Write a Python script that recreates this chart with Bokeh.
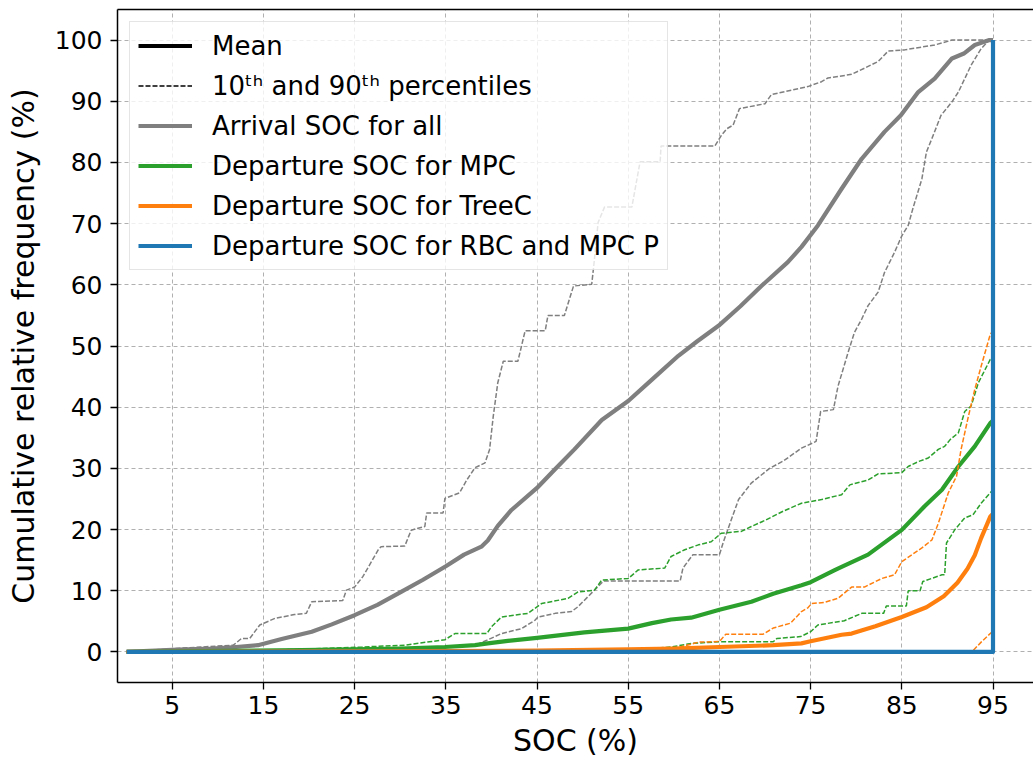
from bokeh.plotting import figure
from bokeh.models import Range1d, FixedTicker, LinearAxis, Legend, LegendItem, ColumnDataSource
from bokeh.embed import file_html
from bokeh.resources import INLINE

# ---------------- data ----------------
arrival_mean_x = [0, 5, 9.3, 12, 14.4, 17, 20.3, 22.5, 25, 27.5, 30.1, 32.5, 35, 37, 38.9, 39.6, 40.7,
                  42.2, 45, 47, 49.1, 52.1, 55, 57.6, 60.5, 62.5, 64.9, 67.3, 69.6, 72.5, 74, 75.8,
                  78.4, 80.6, 83.1, 84.9, 86.8, 88.6, 90.5, 91.8, 93, 94.6, 95]
arrival_mean_y = [0, 0.35, 0.55, 0.8, 1.1, 2.1, 3.3, 4.5, 6.0, 7.7, 9.8, 11.8, 14.0, 15.9, 17.2, 18.2, 20.6,
                  23.2, 26.8, 29.9, 33.1, 37.9, 41.0, 44.5, 48.4, 50.7, 53.3, 56.5, 59.8, 63.7, 66.2, 69.7,
                  75.7, 80.6, 85.0, 87.7, 91.5, 93.7, 97.0, 97.8, 99.2, 100, 100]

arrival_p10_x = [0, 5.3, 11.7, 12.6, 13.5, 14.6, 16.3, 18.4, 19.7, 20.3, 23.7, 24.1, 25.0, 25.9, 27.6, 27.9,
                 30.5, 31.2, 32.7, 32.9, 34.7, 34.9, 36.5, 37.3, 38.2, 39.3, 39.8, 40.2, 40.7, 41.3, 42.9,
                 43.7, 45.9, 46.2, 48.0, 49.0, 51.0, 51.3, 51.7, 52.4, 55.4, 56.3, 58.5, 58.6, 64.5, 65.2,
                 65.8, 66.5, 67.2, 70.0, 70.7, 74.7, 76.2, 76.9, 79.5, 80.9, 82.4, 83.5, 85.3, 88.6, 90.5, 95]
arrival_p10_y = [0, 0.55, 1.1, 2.2, 2.2, 4.4, 5.5, 6.1, 6.3, 8.2, 8.4, 10.1, 10.6, 12.3, 16.7, 17.2,
                 17.3, 19.9, 20.5, 22.7, 22.7, 25.1, 26.0, 28.1, 30.1, 30.9, 33.1, 38.5, 44.0, 47.5, 47.5,
                 52.5, 52.5, 55.0, 55.0, 59.8, 60.1, 64.2, 70.2, 72.7, 72.7, 80.1, 80.1, 82.7, 82.7, 84.4,
                 85.5, 86.1, 88.8, 89.6, 91.1, 92.4, 93.2, 93.8, 94.4, 95.4, 96.5, 98.2, 98.4, 99.2, 100, 100]

arrival_p90_x = [0, 30, 34.9, 38.2, 39.5, 41.1, 43.3, 44.8, 45.1, 47.0, 48.8, 49.5, 51.3, 52.3, 60.7, 61.0,
                 62.1, 65.0, 65.4, 66.3, 67.1, 68.5, 70.5, 72, 74.0, 75.6, 76.1, 77.5, 78.0, 79.1, 79.8,
                 80.6, 81.3, 82.4, 83.1, 84.2, 85.0, 85.7, 86.2, 87.2, 87.7, 88.3, 89.3, 90.5, 91.2, 91.9,
                 92.6, 93.7, 94.6, 95]
arrival_p90_y = [0, 0.4, 0.8, 1.1, 1.9, 3.0, 3.8, 5.2, 5.7, 6.3, 6.6, 7.4, 10.1, 11.6, 11.6, 13.7,
                 15.9, 15.9, 17.8, 21.6, 24.9, 27.6, 30.0, 31.2, 33.3, 34.4, 39.3, 39.6, 43.4, 48.9, 52.2,
                 54.4, 56.6, 58.8, 62.0, 65.3, 68.0, 69.7, 72.4, 77.3, 81.7, 83.9, 87.7, 89.9, 91.5, 93.7,
                 95.9, 98.6, 100, 100]

mpc_mean_x = [0, 19.2, 30, 34.9, 38.2, 39.6, 41.8, 45.0, 50.2, 55.0, 57.6, 59.7, 61.9, 65.0, 68.5, 70.9,
              74.0, 75.0, 77.7, 78.4, 81.3, 85.0, 87.5, 89.4, 91.2, 93.0, 94.7, 95]
mpc_mean_y = [0, 0.3, 0.55, 0.8, 1.1, 1.4, 1.8, 2.3, 3.2, 3.8, 4.7, 5.3, 5.6, 6.9, 8.2, 9.5,
              10.9, 11.4, 13.4, 13.9, 15.9, 19.95, 23.8, 26.5, 30.3, 33.6, 37.4, 37.8]

mpc_p10_x = [0, 18.8, 25.8, 30.5, 34.9, 36.0, 39.5, 40.0, 41.1, 44.0, 45.5, 48.4, 49.5, 51.3, 52.1, 55.0,
             56.1, 59.0, 59.7, 61.2, 62.7, 64.1, 65.2, 67.4, 68.5, 70, 72, 74.0, 76.2, 78.4, 79.3, 81.3,
             82.4, 85.0, 85.7, 86.8, 87.9, 89.0, 89.7, 90.3, 91.2, 91.9, 92.6, 93.4, 94.7, 95]
mpc_p10_y = [0, 0.4, 0.8, 1.1, 2.0, 3.0, 3.0, 4.1, 5.7, 6.3, 7.9, 8.75, 9.8, 10.1, 11.75, 12.0,
             13.4, 13.7, 15.6, 16.7, 17.5, 18.0, 19.4, 19.7, 20.5, 21.5, 23.0, 24.3, 24.9, 25.7, 27.3, 28.1,
             29.1, 29.3, 30.3, 31.1, 31.7, 33.1, 33.6, 34.7, 35.8, 39.3, 40.2, 44.0, 47.8, 48.0]

mpc_p90_x = [0, 55, 59.7, 62.0, 65.0, 70.9, 71.3, 73.9, 75.0, 75.8, 78.7, 80.6, 83.0, 83.3, 85.5, 85.7,
             87.0, 87.3, 89.4, 89.7, 89.9, 90.8, 91.9, 92.8, 93.7, 94.7, 95]
mpc_p90_y = [0, 0.3, 0.8, 1.4, 1.65, 1.65, 2.2, 2.5, 3.3, 4.4, 5.1, 6.3, 6.3, 7.5, 7.5, 10.0,
             10.0, 11.5, 12.6, 12.6, 17.8, 19.95, 21.9, 22.4, 24.3, 26.0, 26.5]

treec_mean_x = [0, 45, 55, 60, 65, 70.9, 74.0, 75.0, 78.4, 79.5, 82.1, 85.0, 87.7, 89.6, 91.1, 92.2,
                93.0, 93.7, 94.7, 95]
treec_mean_y = [0, 0.2, 0.4, 0.55, 0.8, 1.1, 1.4, 1.75, 2.8, 3.0, 4.2, 5.7, 7.3, 9.1, 11.3, 13.6,
                15.8, 18.6, 22.1, 22.6]

treec_p10_x = [0, 59.5, 62.7, 65.0, 65.7, 69.8, 70.9, 72.8, 74.0, 74.7, 75.1, 76.5, 78.0, 79.5, 80.9, 82.8,
               84.2, 85.0, 87.2, 88.3, 89.0, 90.1, 91.0, 91.5, 92.3, 93.0, 93.7, 94.7, 95]
treec_p10_y = [0, 0.3, 1.6, 1.7, 2.9, 2.9, 3.9, 4.7, 6.6, 7.2, 7.9, 8.1, 8.75, 10.6, 10.6, 12.0,
               12.6, 14.75, 17.0, 18.3, 21.0, 26.0, 28.7, 33.1, 38.5, 42.9, 46.7, 51.9, 52.5]

treec_p90_x = [0, 92.8, 93.7, 94.7, 95]
treec_p90_y = [0, 0.2, 1.6, 3.0, 3.4]

rbc_x = [0, 95, 95]
rbc_y = [0, 0, 100]

x_ticks = [5, 15, 25, 35, 45, 55, 65, 75, 85, 95]
y_ticks = [0, 10, 20, 30, 40, 50, 60, 70, 80, 90, 100]

legend_labels = ["Mean", "10\u1d57\u02b0 and 90\u1d57\u02b0 percentiles", "Arrival SOC for all",
                 "Departure SOC for MPC", "Departure SOC for TreeC", "Departure SOC for RBC and MPC P"]

GRAY = "#7f7f7f"
GREEN = "#2ca02c"
ORANGE = "#ff7f0e"
BLUE = "#1f77b4"
FONT = "DejaVu Sans"

# ---------------- figure ----------------
p = figure(width=1033, height=763, x_range=Range1d(-1, 99.44), y_range=Range1d(-5, 105),
           output_backend="svg", toolbar_location=None,
           min_border_left=117, min_border_right=0, min_border_top=9, min_border_bottom=81)
p.outline_line_color = None
p.background_fill_color = "white"

for ax in (p.xaxis[0], p.yaxis[0]):
    ax.axis_line_color = "black"
    ax.axis_line_width = 1.5
    ax.major_tick_line_color = "black"
    ax.major_tick_line_width = 1.3
    ax.major_tick_in = 0
    ax.major_tick_out = 7
    ax.minor_tick_line_color = None
    ax.major_label_text_font = FONT
    ax.major_label_text_font_size = "25px"
    ax.major_label_text_color = "black"
    ax.axis_label_text_font = FONT
    ax.axis_label_text_font_size = "30px"
    ax.axis_label_text_font_style = "normal"
    ax.axis_label_text_color = "black"

p.xaxis[0].ticker = FixedTicker(ticks=x_ticks)
p.yaxis[0].ticker = FixedTicker(ticks=y_ticks)
p.xaxis[0].axis_label = "SOC (%)"
p.yaxis[0].axis_label = "Cumulative relative frequency (%)"
p.xaxis[0].major_label_standoff = 6
p.xaxis[0].axis_label_standoff = 6
p.yaxis[0].major_label_standoff = 8
p.yaxis[0].axis_label_standoff = 11

# top spine
top = LinearAxis(ticker=FixedTicker(ticks=[]), major_label_text_font_size="0px",
                 axis_line_color="black", axis_line_width=1.5, major_tick_out=0, major_tick_in=0,
                 minor_tick_out=0, minor_tick_in=0)
p.add_layout(top, "above")

for g in (p.xgrid[0], p.ygrid[0]):
    g.grid_line_color = "#b0b0b0"
    g.grid_line_dash = "4 3"
    g.grid_line_width = 1

# ---------------- lines ----------------
def dashed(x, y, color):
    return p.line(x, y, line_color=color, line_width=1.5, line_dash="5 2")

def solid(x, y, color):
    return p.line(x, y, line_color=color, line_width=4.2, line_join="round")

dashed(arrival_p10_x, arrival_p10_y, GRAY)
dashed(arrival_p90_x, arrival_p90_y, GRAY)
r_arr = solid(arrival_mean_x, arrival_mean_y, GRAY)

dashed(mpc_p10_x, mpc_p10_y, GREEN)
dashed(mpc_p90_x, mpc_p90_y, GREEN)
r_mpc = solid(mpc_mean_x, mpc_mean_y, GREEN)

dashed(treec_p10_x, treec_p10_y, ORANGE)
dashed(treec_p90_x, treec_p90_y, ORANGE)
r_tree = solid(treec_mean_x, treec_mean_y, ORANGE)

r_rbc = solid(rbc_x, rbc_y, BLUE)

nan = float("nan")
proxy = ColumnDataSource(data=dict(x=[nan, nan], y=[nan, nan]))
r_mean = p.line("x", "y", source=proxy, line_color="black", line_width=4.2)
r_pct = p.line("x", "y", source=proxy, line_color="black", line_width=1.5, line_dash="5 2")

legend = Legend(items=[LegendItem(label=legend_labels[0], renderers=[r_mean]),
                       LegendItem(label=legend_labels[1], renderers=[r_pct]),
                       LegendItem(label=legend_labels[2], renderers=[r_arr]),
                       LegendItem(label=legend_labels[3], renderers=[r_mpc]),
                       LegendItem(label=legend_labels[4], renderers=[r_tree]),
                       LegendItem(label=legend_labels[5], renderers=[r_rbc])],
                location="top_left", margin=12, padding=8, spacing=9,
                glyph_width=54, glyph_height=31, label_height=31, label_standoff=20,
                label_text_font=FONT, label_text_font_size="26px", label_text_color="black",
                border_line_color="#cccccc", border_line_width=1.2,
                background_fill_color="white", background_fill_alpha=0.8)
p.add_layout(legend, "center")

open("out.html", "w").write(file_html(p, INLINE))
